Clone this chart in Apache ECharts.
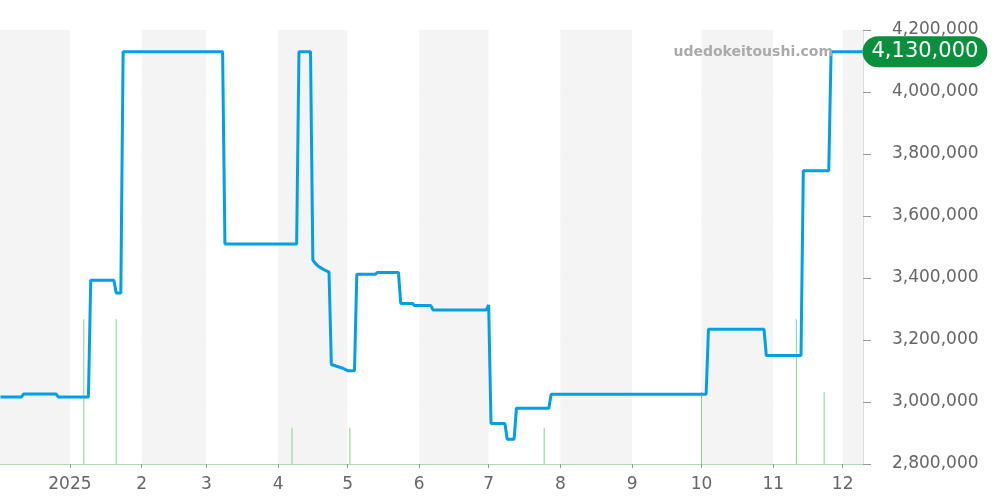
<!DOCTYPE html>
<html>
<head>
<meta charset="utf-8">
<title>price chart</title>
<script src="https://cdn.jsdelivr.net/npm/echarts@6/dist/echarts.min.js"></script>
<style>
  html, body { margin: 0; padding: 0; background: #fff; }
  #chart { width: 1000px; height: 500px; }
</style>
</head>
<body>
<div id="chart"></div>
<script>
// 相場価格 (change points)
const priceDates = [
  '2024-12-02', '2024-12-11', '2024-12-12', '2024-12-26', '2024-12-27',
  '2025-01-09', '2025-01-10', '2025-01-20', '2025-01-21', '2025-01-23',
  '2025-01-24', '2025-03-08', '2025-03-09', '2025-04-09', '2025-04-10',
  '2025-04-15', '2025-04-16', '2025-04-17', '2025-04-18', '2025-04-19',
  '2025-04-21', '2025-04-23', '2025-04-24', '2025-04-26', '2025-04-29',
  '2025-05-01', '2025-05-04', '2025-05-05', '2025-05-13', '2025-05-14',
  '2025-05-23', '2025-05-24', '2025-05-29', '2025-05-30', '2025-06-06',
  '2025-06-07', '2025-06-30', '2025-07-01', '2025-07-02', '2025-07-08',
  '2025-07-09', '2025-07-12', '2025-07-13', '2025-07-27', '2025-07-28',
  '2025-10-03', '2025-10-04', '2025-10-28', '2025-10-29', '2025-11-13',
  '2025-11-14', '2025-11-25', '2025-11-26', '2025-12-09 14:00'
]
const priceValues = [
  3016000, 3016000, 3026000, 3026000, 3016000,
  3016000, 3393000, 3393000, 3352000, 3352000,
  4130000, 4130000, 3510000, 3510000, 4130000,
  4130000, 3458000, 3448000, 3440000, 3435000,
  3426000, 3419000, 3121000, 3116000, 3109000,
  3101000, 3101000, 3412000, 3412000, 3418000,
  3418000, 3318000, 3318000, 3311000, 3311000,
  3297000, 3297000, 3313000, 2931000, 2931000,
  2880000, 2880000, 2980000, 2980000, 3025000,
  3025000, 3235000, 3235000, 3150000, 3150000,
  3746000, 3746000, 4130000, 4130000
]
// 取引量
const volDates = ['2025-01-07', '2025-01-21', '2025-04-07', '2025-05-02', '2025-07-25', '2025-10-01', '2025-11-11', '2025-11-23']
const volValues = [4, 4, 1, 1, 1, 2, 4, 2]

const axisMin = '2024-12-02'
const axisMax = '2025-12-09 14:00'
const lastPrice = priceValues[priceValues.length - 1]

const fmt = v => Number(v).toLocaleString('en-US')

const chart = echarts.init(document.getElementById('chart'))
chart.setOption({
  animation: false,
  textStyle: { fontFamily: 'DejaVu Sans' },
  title: {
    text: 'udedokeitoushi.com',
    right: 167,
    top: 45,
    padding: 0,
    textStyle: { color: '#aaa', fontSize: 14, fontWeight: 'bold', fontFamily: 'DejaVu Sans' }
  },
  grid: { left: 0, right: 137, top: 30, bottom: 36 },
  xAxis: {
    type: 'time',
    min: axisMin,
    max: axisMax,
    splitNumber: 12,
    axisLine: { show: true, lineStyle: { color: '#a9d9a9', type: 'dotted', width: 1 } },
    axisTick: { show: true, length: 4, lineStyle: { color: '#999' } },
    axisLabel: {
      color: '#666',
      fontSize: 17,
      margin: 12,
      formatter: function (value) {
        const d = new Date(value)
        return d.getMonth() === 0 ? String(d.getFullYear()) : String(d.getMonth() + 1)
      }
    },
    splitLine: { show: false },
    splitArea: { show: true, areaStyle: { color: ['#f4f4f4', '#ffffff'] } }
  },
  yAxis: [
    {
      type: 'value',
      position: 'right',
      min: 2800000,
      max: 4200000,
      interval: 200000,
      axisLine: { show: true, lineStyle: { color: '#ddd' } },
      axisTick: { show: true, length: 8, lineStyle: { color: '#999' } },
      axisLabel: { color: '#666', fontSize: 17, margin: 29, formatter: fmt },
      splitLine: { lineStyle: { color: '#ddd' } }
    },
    {
      type: 'value',
      min: 0,
      max: 12,
      show: false
    }
  ],
  series: [
    {
      name: 'volume',
      type: 'bar',
      yAxisIndex: 1,
      barWidth: 1,
      itemStyle: { color: '#84d284' },
      data: volDates.map((d, i) => [d, volValues[i]])
    },
    {
      name: 'price',
      type: 'line',
      symbol: 'none',
      lineStyle: { color: '#00a0e6', width: 3 },
      data: priceDates.map((d, i) => [d, priceValues[i]]),
      endLabel: {
        show: true,
        distance: 0,
        formatter: () => fmt(lastPrice),
        color: '#fff',
        fontSize: 21,
        backgroundColor: '#0a8f3c',
        borderRadius: 16,
        padding: [5, 9]
      }
    }
  ]
})
</script>
</body>
</html>
